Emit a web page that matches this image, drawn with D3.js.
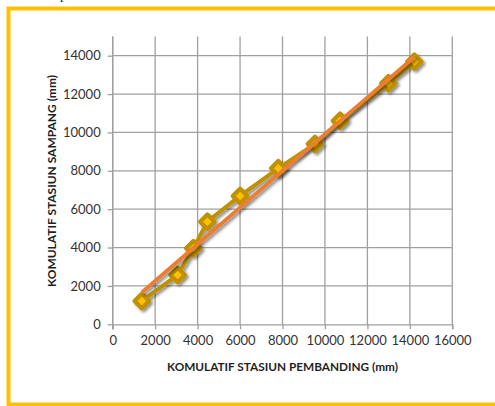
<!DOCTYPE html>
<html>
<head>
<meta charset="utf-8">
<script src="https://cdn.jsdelivr.net/npm/d3@7/dist/d3.min.js"></script>
<style>
  html, body { margin: 0; padding: 0; background: #fff; }
  svg { display: block; }
  text { font-family: Lato, "Open Sans", sans-serif; fill: #404040; }
</style>
</head>
<body>
<svg id="chart" width="495" height="406"></svg>
<script>
// Cumulative rainfall: comparison stations (x) vs. Sampang station (y), mm
const komulatifPembanding = [1370, 3060, 3800, 4460, 6000, 7800, 9530, 10710, 12990, 14210];
const komulatifSampang    = [1210, 2570, 3960, 5350, 6690, 8130, 9400, 10610, 12560, 13690];
const xTicks = [0, 2000, 4000, 6000, 8000, 10000, 12000, 14000, 16000];
const yTicks = [0, 2000, 4000, 6000, 8000, 10000, 12000, 14000];
const xTitle = "KOMULATIF STASIUN PEMBANDING (mm)";
const yTitle = "KOMULATIF STASIUN SAMPANG (mm)";

(function () {
const svg = d3.select("#chart");
const W = 495;

// Yellow frame around the figure
svg.append("path")
  .attr("d", `M${W + 2},8.5 H8.5 V404.5 H${W + 2}`)
  .attr("fill", "none")
  .attr("stroke", "#FFC000")
  .attr("stroke-width", 4);

// Descender of the caption line above the frame
svg.append("text")
  .attr("x", 60).attr("y", -1)
  .style("font-family", "'Liberation Serif', serif")
  .style("font-size", "14px")
  .style("fill", "#222")
  .text("p");

const plotL = 112.7, plotR = 452.3, plotT = 36.5, plotB = 324.3;
const x = d3.scaleLinear().domain([0, 16000]).range([plotL, plotR]);
const y = d3.scaleLinear().domain([0, 15000]).range([plotB, plotT]);

const defs = svg.append("defs");
const shadow = defs.append("filter").attr("id", "shadow")
  .attr("x", "-20%").attr("y", "-20%").attr("width", "140%").attr("height", "140%");
shadow.append("feGaussianBlur").attr("in", "SourceAlpha").attr("stdDeviation", 1.4).attr("result", "b");
shadow.append("feOffset").attr("in", "b").attr("dx", 2.4).attr("dy", 2.4).attr("result", "o");
shadow.append("feComponentTransfer").attr("in", "o").attr("result", "s")
  .append("feFuncA").attr("type", "linear").attr("slope", 0.45);
const merge = shadow.append("feMerge");
merge.append("feMergeNode").attr("in", "s");
merge.append("feMergeNode").attr("in", "SourceGraphic");

const gridColor = "#A0A0A0";

// Gridlines
svg.append("g").selectAll("line").data(xTicks).join("line")
  .attr("x1", d => x(d)).attr("x2", d => x(d))
  .attr("y1", plotT).attr("y2", plotB)
  .attr("stroke", gridColor).attr("stroke-width", 1.3);
svg.append("g").selectAll("line").data(yTicks.filter(d => d > 0)).join("line")
  .attr("x1", plotL).attr("x2", plotR)
  .attr("y1", d => y(d)).attr("y2", d => y(d))
  .attr("stroke", gridColor).attr("stroke-width", 1.3);

// Axes
const xAxis = svg.append("g")
  .attr("transform", `translate(0,${plotB})`)
  .call(d3.axisBottom(x).tickValues(xTicks).tickSize(5).tickPadding(6).tickFormat(d3.format("d")));
const yAxis = svg.append("g")
  .attr("transform", `translate(${plotL},0)`)
  .call(d3.axisLeft(y).tickValues(yTicks).tickSize(5).tickPadding(7).tickFormat(d3.format("d")));
[xAxis, yAxis].forEach(g => {
  g.select(".domain").attr("stroke", gridColor).attr("stroke-width", 1.3);
  g.selectAll(".tick line").attr("stroke", gridColor).attr("stroke-width", 1.3);
  g.selectAll(".tick text")
    .style("font-family", "Lato, sans-serif")
    .style("font-size", "13px")
    .style("fill", "#333");
});
yAxis.select(".domain").attr("d", `M0,${plotB + 5}V${plotT}`);

// Axis titles
svg.append("text")
  .attr("x", 282.5).attr("y", 371)
  .attr("text-anchor", "middle")
  .attr("textLength", 231).attr("lengthAdjust", "spacingAndGlyphs")
  .style("font-weight", "bold").style("font-size", "12px").style("fill", "#1f1f1f")
  .text(xTitle);
svg.append("text")
  .attr("transform", "translate(55.5,181) rotate(-90)")
  .attr("text-anchor", "middle")
  .attr("textLength", 212).attr("lengthAdjust", "spacingAndGlyphs")
  .style("font-weight", "bold").style("font-size", "12px").style("fill", "#1f1f1f")
  .text(yTitle);

// Data points
const points = komulatifPembanding.map((v, i) => [v, komulatifSampang[i]]);

const series = svg.append("g").attr("filter", "url(#shadow)");
series.append("path")
  .datum(points)
  .attr("d", d3.line().x(d => x(d[0])).y(d => y(d[1])))
  .attr("fill", "none")
  .attr("stroke", "#BF9000")
  .attr("stroke-width", 4)
  .attr("stroke-linejoin", "round");

const marker = d3.symbol().type(d3.symbolSquare).size(105);
series.selectAll("path.pt").data(points).join("path")
  .attr("class", "pt")
  .attr("d", marker)
  .attr("transform", d => `translate(${x(d[0])},${y(d[1])}) rotate(45)`)
  .attr("fill", "#FFC000")
  .attr("stroke", "#BF9000")
  .attr("stroke-width", 4.2)
  .attr("stroke-linejoin", "round");

// Linear trendline (least squares fit)
const mx = d3.mean(komulatifPembanding), my = d3.mean(komulatifSampang);
const sxy = d3.sum(points, d => (d[0] - mx) * (d[1] - my));
const sxx = d3.sum(points, d => (d[0] - mx) ** 2);
const slope = sxy / sxx, intercept = my - slope * mx;
const xr = d3.extent(komulatifPembanding);
svg.append("line")
  .attr("filter", "url(#shadow)")
  .attr("x1", x(xr[0])).attr("y1", y(slope * xr[0] + intercept))
  .attr("x2", x(xr[1])).attr("y2", y(slope * xr[1] + intercept))
  .attr("stroke", "#ED7D31")
  .attr("stroke-width", 3.8);
})();
</script>
</body>
</html>
